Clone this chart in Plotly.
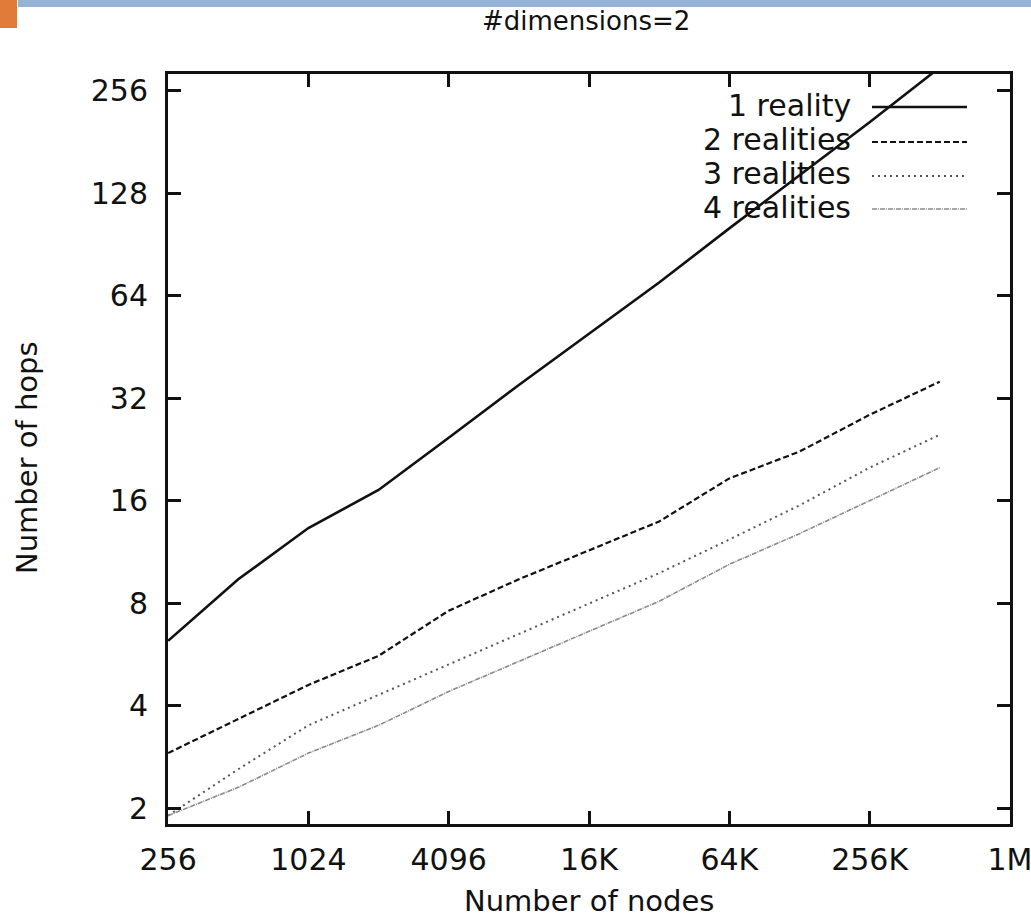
import math
import plotly.graph_objects as go

# ---------------- data ----------------
nodes = [256, 512, 1024, 2048, 4096, 8192, 16384, 32768, 65536, 131072, 262144, 524288]
series_names = ["1 reality", "2 realities", "3 realities", "4 realities"]
hops_1 = [6.2, 9.4, 13.3, 17.2, 24.5, 35, 49.5, 70, 101, 145, 207, 300]
hops_2 = [2.9, 3.65, 4.6, 5.6, 7.6, 9.4, 11.4, 13.9, 18.6, 22.3, 28.6, 35.8]
hops_3 = [1.9, 2.6, 3.5, 4.3, 5.3, 6.5, 8.0, 9.8, 12.3, 15.5, 20.0, 25.0]
hops_4 = [1.9, 2.3, 2.9, 3.5, 4.4, 5.4, 6.6, 8.1, 10.4, 12.8, 16.0, 20.0]
x_tickvals = [256, 1024, 4096, 16384, 65536, 262144, 1048576]
x_ticktext = ["256", "1024", "4096", "16K", "64K", "256K", "1M"]
y_tickvals = [2, 4, 8, 16, 32, 64, 128, 256]
y_ticktext = ["2", "4", "8", "16", "32", "64", "128", "256"]
title_text = "#dimensions=2"
x_title = "Number of nodes"
y_title = "Number of hops"

# ---------------- styles ----------------
W, H = 1031, 918
L, R, T, B = 168, 1010, 74, 824
FONT = "DejaVu Sans"
FS = 30
styles = [
    dict(color="#111111", width=2.6, dash="solid"),
    dict(color="#111111", width=2.2, dash="6px,3px"),
    dict(color="#555555", width=2.0, dash="2px,4px"),
    dict(color="#8a8a8a", width=1.6, dash="5px,1px,1px,1px"),
]

def px(xp):
    return (xp - L) / (R - L)

def py(yp):
    return (B - yp) / (B - T)

fig = go.Figure()
for name, ys, st in zip(series_names, [hops_1, hops_2, hops_3, hops_4], styles):
    fig.add_trace(go.Scatter(x=nodes, y=ys, mode="lines", name=name,
                             line=st, showlegend=False, hoverinfo="skip"))

shapes = []
annotations = []

# manual gnuplot-style legend (text right, sample line on right)
leg_rows = [105, 140, 174, 207]
for name, st, yrow in zip(series_names, styles, leg_rows):
    annotations.append(dict(xref="paper", yref="paper", x=px(853), y=py(yrow),
                            text=name, showarrow=False, xanchor="right", yanchor="middle",
                            font=dict(family=FONT, size=FS, color="#111111")))
    shapes.append(dict(type="line", xref="paper", yref="paper",
                       x0=px(872), x1=px(967), y0=py(yrow + 2), y1=py(yrow + 2),
                       line=st))

# title and axis titles
annotations.append(dict(xref="paper", yref="paper", x=px(586), y=py(21), text=title_text,
                        showarrow=False, xanchor="center", yanchor="middle",
                        font=dict(family=FONT, size=26, color="#111111")))
annotations.append(dict(xref="paper", yref="paper", x=px(589), y=py(901), text=x_title,
                        showarrow=False, xanchor="center", yanchor="middle",
                        font=dict(family=FONT, size=29, color="#111111")))
annotations.append(dict(xref="paper", yref="paper", x=px(27), y=py(458), text=y_title,
                        showarrow=False, xanchor="center", yanchor="middle", textangle=-90,
                        font=dict(family=FONT, size=29, color="#111111")))

# slide decoration: blue bar and orange corner
shapes.append(dict(type="rect", xref="paper", yref="paper", x0=px(18), x1=px(1031),
                   y0=py(7), y1=py(0), fillcolor="#95b3d7", line=dict(width=0), layer="above"))
shapes.append(dict(type="rect", xref="paper", yref="paper", x0=px(0), x1=px(17),
                   y0=py(28), y1=py(0), fillcolor="#e07b39", line=dict(width=0), layer="above"))

axis_common = dict(type="log", showgrid=False, zeroline=False, showline=True,
                   linecolor="#111111", linewidth=3, mirror="allticks",
                   ticks="inside", ticklen=13, tickwidth=2.5, tickcolor="#111111",
                   ticklabeloverflow="allow", automargin=False,
                   tickfont=dict(family=FONT, size=FS, color="#111111"))

fig.update_layout(
    width=W, height=H,
    margin=dict(l=L, r=W - R, t=T, b=H - B, autoexpand=False),
    paper_bgcolor="white", plot_bgcolor="white",
    xaxis=dict(range=[math.log10(256) - 0.0004, math.log10(1048576) + 0.0004],
               tickvals=x_tickvals, ticktext=x_ticktext, ticklabelstandoff=7,
               **axis_common),
    yaxis=dict(range=[math.log10(1.795), math.log10(287)],
               tickvals=y_tickvals, ticktext=y_ticktext, ticklabelstandoff=11,
               **axis_common),
    shapes=shapes, annotations=annotations, showlegend=False,
)

fig.write_html(
    "out.html",
    config={"displayModeBar": False},
    post_script=(
        "var s=document.createElement('style');"
        "s.textContent='html,body{margin:0;padding:0;overflow:hidden;}';"
        "document.head.appendChild(s);"
    ),
)
